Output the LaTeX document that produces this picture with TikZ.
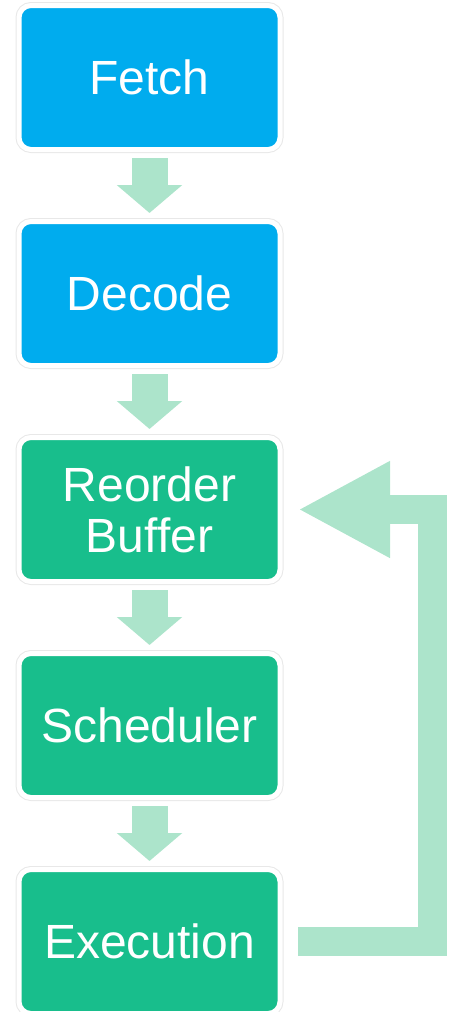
\documentclass[tikz,border=0pt]{standalone}
\usepackage{fontspec}
\setmainfont{Liberation Sans}
\usetikzlibrary{positioning, arrows.meta}

\definecolor{stageblue}{RGB}{0,172,238}
\definecolor{stagegreen}{RGB}{24,190,140}
\definecolor{flowmint}{RGB}{172,228,203}

\begin{document}
\begin{tikzpicture}[x=1pt, y=1pt,
  stage/.style={rectangle, rounded corners=12pt, minimum width=261pt, minimum height=144pt,
    inner sep=0pt, outer sep=0pt, align=center, text=white,
    draw=white, line width=5pt, preaction={draw=black!9, line width=7pt},
    font=\fontsize{48}{51}\selectfont},
  flow/.style={draw=flowmint, line width=36pt, line cap=butt,
    -{Triangle[length=28pt, width=64pt]}},
  back/.style={draw=flowmint, line width=29pt, line cap=butt, line join=miter,
    -{Triangle[length=92pt, width=90pt]}}]

  % --- 1. 画面の大きさ ---
  \useasboundingbox (0,0) rectangle (449,-1012);

  % --- 2. パイプラインの各段 ---
  \node[stage, fill=stageblue] (fetch) at (149.5,-77.5) {Fetch};
  \node[stage, fill=stageblue, below=72pt of fetch] (decode) {Decode};
  \node[stage, fill=stagegreen, below=72pt of decode] (reorder) {Reorder\\Buffer};
  \node[stage, fill=stagegreen, below=72pt of reorder] (scheduler) {Scheduler};
  \node[stage, fill=stagegreen, below=72pt of scheduler] (execution) {Execution};

  % --- 3. 段と段の間の矢印 ---
  \draw[flow] ([yshift=-8.5pt]fetch.south) -- ([yshift=8.5pt]decode.north);
  \draw[flow] ([yshift=-8.5pt]decode.south) -- ([yshift=8.5pt]reorder.north);
  \draw[flow] ([yshift=-8.5pt]reorder.south) -- ([yshift=8.5pt]scheduler.north);
  \draw[flow] ([yshift=-8.5pt]scheduler.south) -- ([yshift=8.5pt]execution.north);

  % --- 4. Execution から Reorder Buffer へ戻る矢印 ---
  \draw[back] ([xshift=18pt]execution.east) -- ++(134pt,0) |- ([xshift=18pt]reorder.east);

\end{tikzpicture}
\end{document}
